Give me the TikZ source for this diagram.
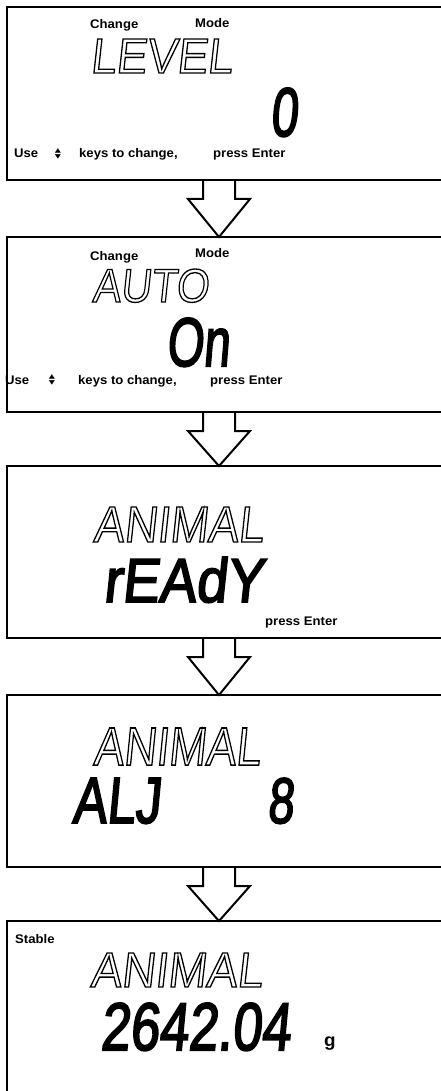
\documentclass[tikz,border=0pt]{standalone}
\usepackage{fontspec}
\setmainfont{Liberation Sans}
\newfontfamily\lblfont{Liberation Sans}[FakeStretch=1.05]
\newfontfamily\segfont{Liberation Sans}[FakeSlant=0.12]
\newfontfamily\symfont{DejaVu Sans}
\usetikzlibrary{calc}
\tikzset{
  panel/.style={draw, line width=2.5pt, rectangle, anchor=north west, inner sep=0pt, outer sep=0pt, minimum width=470pt},
  lbl/.style={font=\lblfont\bfseries\fontsize{12.5}{13}\selectfont, inner sep=0pt, anchor=base west},
  seg/.style={inner sep=0pt, anchor=base west},
  updown/.style={inner sep=0pt, font=\symfont\fontsize{8}{6}\selectfont},
  flow/.style={draw, line width=2pt, line join=miter}
}
\newcommand\flowarrow[2]{%
  \draw[flow] ($(#1.south west)+(196,0)$) -- ($(#1.south west)+(196,19)$)
    -- ($(#1.south west)+(181,19)$) -- ($(#2.north west)+(212,0)$)
    -- ($(#1.south west)+(243,19)$) -- ($(#1.south west)+(228,19)$)
    -- ($(#1.south west)+(228,0)$);}
\newcommand\updownsym{\scalebox{1}[0.75]{\shortstack{▲\\[-1pt]▼}}}
% hollow (outlined) segment lettering
\newcommand\hollow[1]{\special{pdf:literal direct 1 Tr 0.28 w}#1\special{pdf:literal direct 0 Tr}}
% heavier (filled + stroked) segment lettering
\newcommand\heavy[1]{\special{pdf:literal direct 2 Tr 0.3 w}#1\special{pdf:literal direct 0 Tr}}
\begin{document}
\begin{tikzpicture}[x=1pt,y=-1pt]
\useasboundingbox (0,0) rectangle (441,1091);
\fill[white] (0,0) rectangle (441,1091);
\clip (0,0) rectangle (441,1091);

% panels
\node[panel, minimum height=173pt] (b1) at (7,7) {};
\node[panel, minimum height=175pt] (b2) at (7,237) {};
\node[panel, minimum height=172pt] (b3) at (7,466) {};
\node[panel, minimum height=172pt] (b4) at (7,695) {};
\node[panel, minimum height=220pt] (b5) at (7,921) {};

% arrows
\flowarrow{b1}{b2}
\flowarrow{b2}{b3}
\flowarrow{b3}{b4}
\flowarrow{b4}{b5}

% panel 1
\node[lbl] (c1) at (90,28.5) {Change};
\node[lbl] (m1) at (195,28) {Mode};
\node[seg] (t1) at (90,73) {\resizebox{142pt}{34pt}{\segfont\hollow{LEVEL}}};
\node[seg] (v1) at (270,136) {\resizebox{27pt}{48pt}{\segfont\heavy{0}}};
\node[lbl] (u1) at (14,158) {Use};
\node[updown] (a1) at (58,154) {\updownsym};
\node[lbl] (k1) at (79,158) {keys to change,};
\node[lbl] (p1) at (213,158) {press Enter};

% panel 2
\node[lbl] (c2) at (90,260) {Change};
\node[lbl] (m2) at (195,257) {Mode};
\node[seg] (t2) at (92,302) {\resizebox{116pt}{33pt}{\segfont\hollow{AUTO}}};
\node[seg] (v2) at (166,366) {\resizebox{63pt}{48pt}{\segfont\heavy{On}}};
\node[lbl] (u2) at (5,384) {Use};
\node[updown] (a2) at (52,380) {\updownsym};
\node[lbl] (k2) at (78,384) {keys to change,};
\node[lbl] (p2) at (210,384) {press Enter};

% panel 3
\node[seg] (t3) at (93,542) {\resizebox{170pt}{35pt}{\segfont\hollow{ANIMAL}}};
\node[seg] (v3) at (103,602) {\resizebox{160pt}{45pt}{\segfont\heavy{rEAdY}}};
\node[lbl] (p3) at (265,625) {press Enter};

% panel 4
\node[seg] (t4) at (93,765) {\resizebox{167pt}{37pt}{\segfont\hollow{ANIMAL}}};
\node[seg] (v4) at (72,823) {\resizebox{88pt}{45pt}{\segfont\heavy{ALJ}}};
\node[seg] (w4) at (267,823) {\resizebox{26pt}{45pt}{\segfont\heavy{8}}};

% panel 5
\node[lbl] (s5) at (15,943) {Stable};
\node[seg] (t5) at (90,987) {\resizebox{172pt}{34pt}{\segfont\hollow{ANIMAL}}};
\node[seg] (v5) at (100,1050) {\resizebox{190pt}{47pt}{\segfont\heavy{2642.04}}};
\node[lbl, font=\lblfont\bfseries\fontsize{18}{20}\selectfont] (g5) at (324,1046) {g};
\end{tikzpicture}
\end{document}
